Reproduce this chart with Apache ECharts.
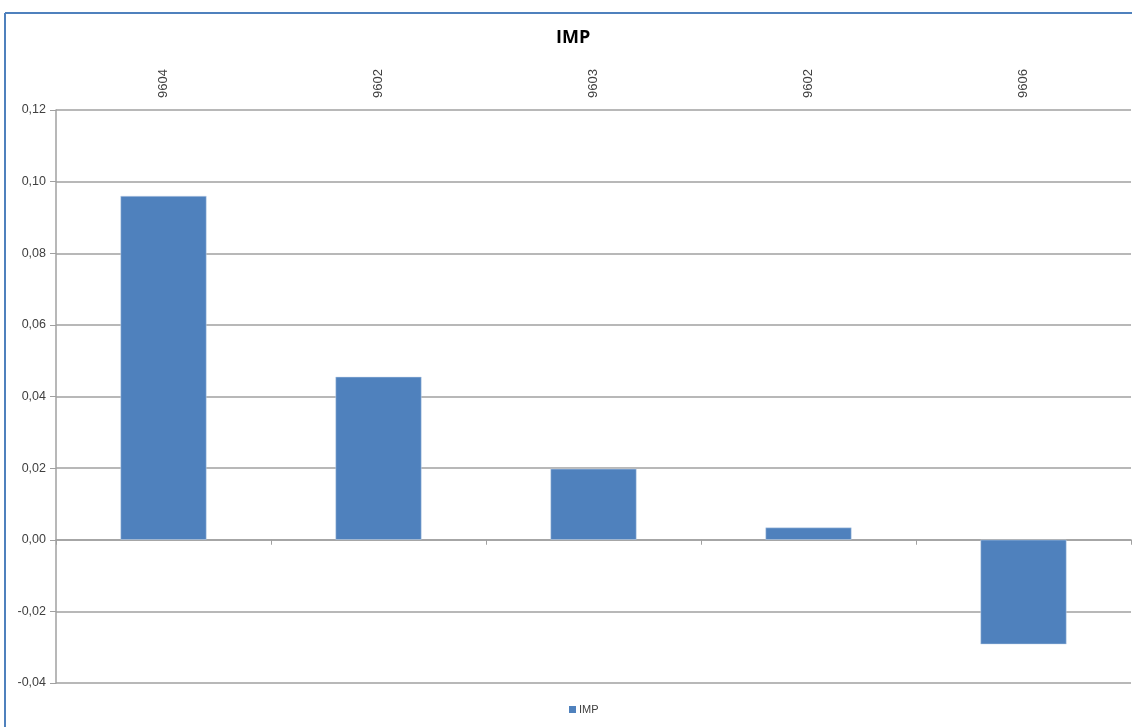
<!DOCTYPE html>
<html><head><meta charset="utf-8">
<script src="https://cdn.jsdelivr.net/npm/echarts@6/dist/echarts.min.js"></script>
<style>html,body{margin:0;padding:0;background:#fff}#c{width:1132px;height:727px}</style>
</head><body><div id="c"></div>
<script>
const categories = ['9604', '9602', '9603', '9602', '9606'];
const impValues = [0.096, 0.0455, 0.0198, 0.0034, -0.0292];
const seriesName = 'IMP';
const yTicks = { min: -0.04, max: 0.12, interval: 0.02 };

const chart = echarts.init(document.getElementById('c'));
chart.setOption({
  animation: false,
  backgroundColor: '#ffffff',
  title: { text: 'IMP', left: 551, top: 24, textStyle: { fontFamily: 'Open Sans', fontWeight: 'bold', fontSize: 18, color: '#000' } },
  graphic: [
    { type: 'line', shape: { x1: 5, y1: 13, x2: 1132, y2: 13 }, style: { stroke: '#4f81bd', lineWidth: 2 } },
    { type: 'line', shape: { x1: 5, y1: 13, x2: 5, y2: 727 }, style: { stroke: '#4f81bd', lineWidth: 2 } }
  ],
  legend: { bottom: 7, left: 564, itemWidth: 7, itemHeight: 7, itemGap: 4, icon: 'rect', itemStyle: { borderWidth: 0 }, textStyle: { fontSize: 11, color: '#404040', fontFamily: 'Liberation Sans', padding: [0, 0, 0, -2] }, data: [seriesName] },
  grid: { left: 56, right: 1, top: 110, bottom: 44 },
  xAxis: [
    { type: 'category', data: categories, position: 'top', axisLine: { show: false, onZero: false }, axisTick: { show: false },
      axisLabel: { rotate: -90, margin: 12, fontSize: 13, color: '#404040', fontFamily: 'Liberation Sans' } },
    { type: 'category', data: categories, position: 'bottom', axisLine: { onZero: true, lineStyle: { color: '#a0a0a0', width: 1.5 } },
      axisTick: { show: true, length: 5, lineStyle: { color: '#a0a0a0' } }, axisLabel: { show: false } }
  ],
  yAxis: {
    type: 'value', min: yTicks.min, max: yTicks.max, interval: yTicks.interval,
    axisLine: { show: true, lineStyle: { color: '#a0a0a0', width: 1.5 } },
    axisTick: { show: true, length: 6, lineStyle: { color: '#a0a0a0' } },
    splitLine: { lineStyle: { color: '#a0a0a0', width: 1.5 } },
    axisLabel: { fontSize: 12.5, color: '#404040', fontFamily: 'Liberation Sans', margin: 10,
      formatter: v => v.toFixed(2).replace('.', ',') }
  },
  series: [{ name: seriesName, type: 'bar', xAxisIndex: 0, data: impValues, barWidth: '40%',
    itemStyle: { color: '#4f81bd', borderColor: '#c8d8ec', borderWidth: 0.5 } }]
});
</script></body></html>
